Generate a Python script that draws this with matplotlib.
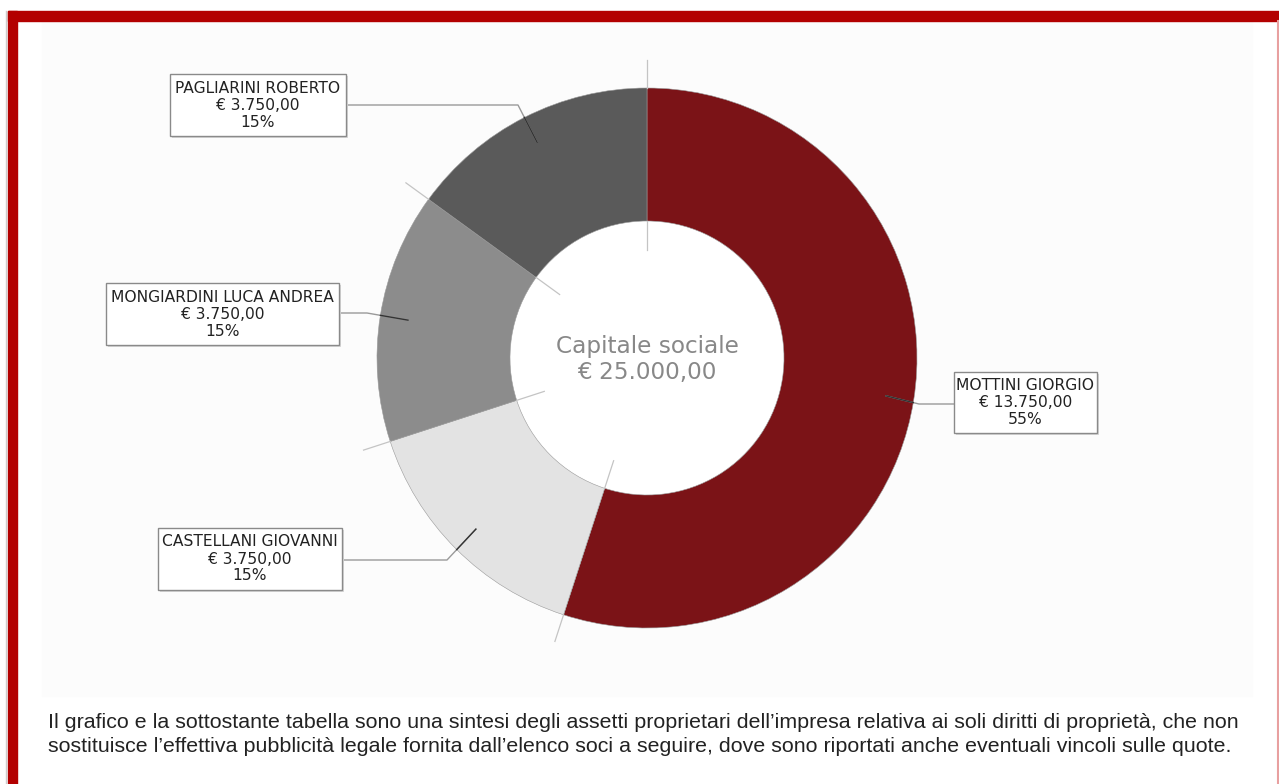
import numpy as np
import matplotlib.pyplot as plt
from matplotlib.patches import Rectangle, Circle

# dati
soci = ['MOTTINI GIORGIO', 'CASTELLANI GIOVANNI', 'MONGIARDINI LUCA ANDREA', 'PAGLIARINI ROBERTO']
quote = [13750.00, 3750.00, 3750.00, 3750.00]
percentuali = ['55%', '15%', '15%', '15%']
colori = ['#7b1317', '#e3e3e3', '#8c8c8c', '#5a5a5a']
capitale = 25000.00

plt.rcParams['font.family'] = ['DejaVu Sans']


def euro(v):
    s = f"{v:,.2f}"
    return "€ " + s.replace(",", "X").replace(".", ",").replace("X", ".")


W, H = 1279, 784
fig = plt.figure(figsize=(W / 100, H / 100), dpi=100)
ax = fig.add_axes([0, 0, 1, 1])


def Y(y):
    return H - y


# cornice
ax.add_patch(Rectangle((42, Y(696)), 1210, 675, color='#fcfcfc', zorder=0))
ax.add_patch(Rectangle((8, Y(21)), W - 8, 10, color='#b30000', zorder=1))
ax.add_patch(Rectangle((8, 0), 9, Y(11), color='#b30000', zorder=1))
ax.plot([6, 6], [0, Y(11)], color='#cccccc', lw=1)
ax.plot([W - 1, W - 1], [0, Y(21)], color='#e8a0a0', lw=1.5)

cx, cy = 647, Y(358)
R, r_in = 270, 137

ax.pie(quote, colors=colori, startangle=90, counterclock=False,
       center=(cx, cy), radius=R, frame=True,
       wedgeprops=dict(width=R - r_in, edgecolor='#9a9a9a', linewidth=0.4))
ax.add_patch(Circle((cx, cy), r_in - 0.5, color='white', zorder=0.5))
ax.set_xlim(0, W)
ax.set_ylim(0, H)
ax.set_aspect('equal')
ax.axis('off')

# linee di separazione
frac = np.array(quote) / sum(quote)
bordi = 90 - 360 * np.concatenate([[0], np.cumsum(frac)[:-1]])
for a in bordi:
    t = np.radians(a)
    for r0, r1 in [(R, 298), (r_in, 108)]:
        ax.plot([cx + r0 * np.cos(t), cx + r1 * np.cos(t)],
                [cy + r0 * np.sin(t), cy + r1 * np.sin(t)], color='#c4c4c4', lw=0.9)

# etichette: riquadro (x0, y0, x1, y1) e gomito della linea
riquadri = [(954, 372, 1097, 433), (158, 528, 342, 590), (106, 283, 339, 345), (170, 74, 346, 136)]
gomiti = [(919, 404), (447, 560), (367, 313), (518, 105)]
mid = 90 - 360 * (np.cumsum(frac) - frac / 2)

for i in range(len(soci)):
    x0, y0, x1, y1 = riquadri[i]
    ax.add_patch(Rectangle((x0 + 1.5, Y(y1) - 1.5), x1 - x0, y1 - y0, facecolor='#d8d8d8', edgecolor='none', zorder=3))
    ax.add_patch(Rectangle((x0, Y(y1)), x1 - x0, y1 - y0, facecolor='white', edgecolor='#8a8a8a', lw=1, zorder=4))
    yc = (y0 + y1) / 2
    for k, riga in enumerate([soci[i], euro(quote[i]), percentuali[i]]):
        ax.text((x0 + x1) / 2, Y(yc + (k - 1) * 17), riga,
                ha='center', va='center', fontsize=11.2, color='#222222', zorder=5)
    t = np.radians(mid[i])
    px, py = cx + 242 * np.cos(t), cy + 242 * np.sin(t)
    gx, gy = gomiti[i]
    bx = x0 if x0 > cx else x1
    ax.plot([px, gx, bx], [py, Y(gy), Y(gy)], color='#9a9a9a', lw=1, zorder=2)
    # tratto scuro dentro la fetta
    s = np.linspace(0, 1, 400)
    lx = px + (gx - px) * s
    ly = py + (Y(gy) - py) * s
    dentro = np.hypot(lx - cx, ly - cy) <= R
    ax.plot(lx[dentro], ly[dentro], color='#333333', lw=1, zorder=2)

ax.text(cx, Y(346), "Capitale sociale", ha='center', va='center',
        fontsize=16.7, color='#888888')
ax.text(cx, Y(372), euro(capitale), ha='center', va='center',
        fontsize=16.7, color='#888888')

nota = ["Il grafico e la sottostante tabella sono una sintesi degli assetti proprietari dell’impresa relativa ai soli diritti di proprietà, che non",
        "sostituisce l’effettiva pubblicità legale fornita dall’elenco soci a seguire, dove sono riportati anche eventuali vincoli sulle quote."]
for k, riga in enumerate(nota):
    ax.text(48, Y(722 + 24 * k), riga, ha='left', va='center', fontsize=15.4,
            family='Liberation Sans', color='#222222')

fig.savefig('out.png', dpi=100)
